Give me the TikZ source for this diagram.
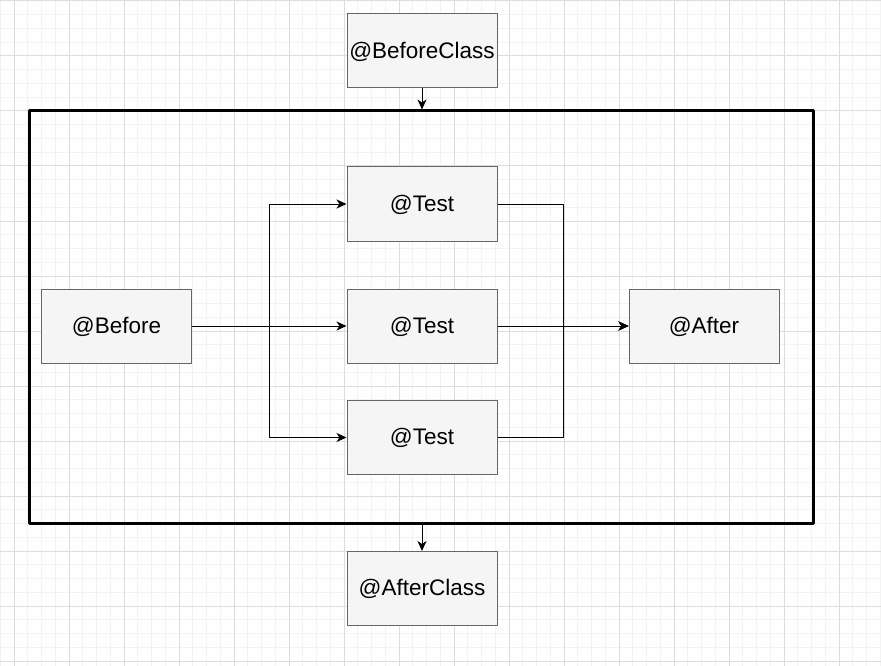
\documentclass[tikz,border=0pt]{standalone}
\usepackage{fontspec}
\setmainfont{Liberation Sans}
\usetikzlibrary{arrows.meta}
\definecolor{boxfill}{HTML}{F5F5F5}
\definecolor{boxline}{HTML}{666666}
\definecolor{gridminor}{HTML}{F3F3F3}
\definecolor{gridmajor}{HTML}{DCDCDC}
\begin{document}
\begin{tikzpicture}[x=1pt,y=-1pt,line join=round,>={Stealth[length=10pt,width=9pt,inset=3pt]},
	annot/.style={draw=boxline,fill=boxfill,line width=1pt,minimum width=150pt,minimum height=74pt,inner sep=0pt,text height=16.6pt,text depth=2pt,font=\fontsize{22.5}{26}\selectfont},
	flow/.style={->,line width=1pt,black}]
	\useasboundingbox (0,0) rectangle (881,666);
	\fill[white] (0,0) rectangle (881,666);
	% grid
	\foreach \x in {0.25,14,...,881} \draw[gridminor,line width=1pt] (\x,0)--(\x,666);
	\foreach \y in {1,14.75,...,666} \draw[gridminor,line width=1pt] (0,\y)--(881,\y);
	\foreach \x in {14,69,...,881} \draw[gridmajor,line width=1pt] (\x,0)--(\x,666);
	\foreach \y in {1,56,...,666} \draw[gridmajor,line width=1pt] (0,\y)--(881,\y);
	% frame and boxes
	\node (frame) [draw,line width=3pt,minimum width=784pt,minimum height=412pt,inner sep=0pt] at (421,317) {};
	\node (bclass) [annot] at (422,51) {@BeforeClass};
	\node (aclass) [annot] at (422,588.5) {@AfterClass};
	\node (before) [annot] at (116.5,326) {@Before};
	\node (testa) [annot] at (422,204) {@Test};
	\node (testb) [annot] at (422,326) {@Test};
	\node (testc) [annot] at (422,437.5) {@Test};
	\node (after) [annot] at (704,326) {@After};
	\path
	(269,326) coordinate (fork)
	(563,326) coordinate (merge)
	;
	\draw[flow] (bclass.south)--(bclass.south|-frame.north);
	\draw[flow] (aclass.north|-frame.south)--(aclass.north);
	\draw[flow] (before)--(fork)|-(testa);
	\draw[flow] (before)--(testb);
	\draw[flow] (before)--(fork)|-(testc);
	\draw[flow] (testa)-|(merge)--(after);
	\draw[flow] (testb)--(after);
	\draw[flow] (testc)-|(merge)--(after);
\end{tikzpicture}
\end{document}
